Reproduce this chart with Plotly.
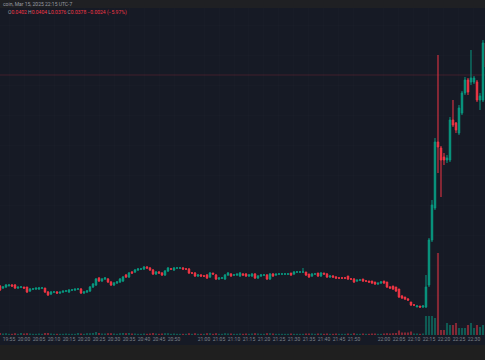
import pandas as pd
import plotly.graph_objects as go

# One-minute candles starting 19:52; prices in units of 0.0001
start_time = "2025-03-15 19:52"
TICK = 0.0001
open_u = [
    159,157,158,159,160,160,157,158,158,158,  # 19:52
    154,156,156,156,157,157,153,151,153,153,  # 20:02
    152,153,154,153,155,155,156,156,152,153,  # 20:12
    154,158,160,167,164,166,166,163,160,162,  # 20:22
    163,164,170,168,173,173,175,176,176,178,  # 20:32
    177,175,171,173,172,170,174,176,175,177,  # 20:42
    177,177,176,176,172,172,169,170,169,170,  # 20:52
    168,172,170,166,167,166,170,171,170,170,  # 21:02
    169,171,171,169,169,171,167,169,170,170,  # 21:12
    166,171,170,171,171,171,171,172,171,173,  # 21:22
    173,173,173,171,169,171,172,169,172,171,  # 21:32
    168,169,168,167,167,167,169,166,166,164,  # 21:42
    165,166,164,164,164,163,161,162,164,163,  # 21:52
    158,159,158,156,149,148,146,143,140,138,  # 22:02
    139,138,138,160,205,237,303,297,288,285,  # 22:12
    285,325,322,312,332,352,365,363,363,363,  # 22:22
    345,345,402]                              # 22:32
high_u = [
    160,159,161,161,161,161,158,159,158,158,
    157,157,157,158,158,157,154,154,154,154,
    153,154,155,156,156,156,157,157,154,155,
    159,162,167,168,167,168,167,164,163,164,
    167,169,171,173,174,176,177,177,179,179,
    178,176,174,174,173,175,178,177,178,178,
    178,178,177,177,173,173,171,171,170,171,
    173,172,171,168,168,171,173,172,171,171,
    173,172,172,171,172,172,170,171,171,171,
    172,172,171,172,172,172,172,172,174,174,
    174,177,173,171,172,172,172,173,172,172,
    170,170,169,168,168,168,169,167,167,165,
    166,166,165,164,164,163,162,164,164,163,
    159,159,158,156,150,148,147,143,141,140,
    139,140,170,207,245,307,390,299,292,290,
    328,345,323,340,354,368,367,395,369,365,
    352,405,404]
low_u = [
    154,156,157,159,158,156,156,157,156,152,
    153,155,155,155,156,152,149,150,152,151,
    151,152,153,152,154,154,155,151,151,152,
    153,157,159,163,163,165,162,159,159,161,
    162,163,167,167,171,172,174,175,175,176,
    174,170,170,171,169,169,173,175,174,176,
    176,175,175,171,171,168,168,168,168,166,
    167,170,165,165,166,165,169,168,169,169,
    168,169,168,168,168,166,166,168,169,165,
    165,168,169,170,170,170,170,169,170,172,
    172,172,169,167,168,170,168,168,170,167,
    167,167,166,166,166,166,165,165,162,163,
    164,163,163,162,161,160,160,161,161,157,
    156,155,153,147,146,145,144,139,139,138,
    137,137,137,158,203,235,272,248,280,282,
    283,318,312,310,330,350,350,360,361,343,
    335,343,376]
close_u = [
    155,158,160,160,159,157,158,158,157,153,
    156,156,157,157,157,153,150,153,153,152,
    153,154,154,155,155,156,156,152,153,154,
    158,161,166,164,166,167,163,160,162,163,
    166,168,168,172,172,175,176,176,178,177,
    175,171,173,172,170,174,177,176,177,177,
    177,176,176,172,172,169,170,169,169,167,
    172,171,166,167,167,170,172,169,170,171,
    172,170,169,170,171,167,169,170,170,166,
    171,169,171,171,171,171,171,170,173,173,
    173,173,170,168,171,171,169,172,171,168,
    169,168,167,167,167,167,166,166,163,165,
    165,164,164,163,162,161,162,163,162,158,
    157,156,154,148,147,146,145,140,140,139,
    138,139,158,205,240,303,298,285,285,287,
    325,320,315,337,352,365,353,367,367,345,
    349,402,378]
# Volume in thousands
volume_k = [
    20,15,18,12,12,18,12,20,15,18,
    15,12,12,15,12,20,20,15,12,12,
    12,12,15,12,12,12,20,15,12,18,
    18,20,30,20,15,15,18,18,15,12,
    18,20,18,20,15,15,12,12,15,12,
    15,20,15,12,15,18,18,12,15,12,
    12,12,12,18,12,18,12,12,12,18,
    18,12,18,12,12,18,15,15,12,12,
    15,12,15,12,15,18,15,12,12,18,
    18,15,12,12,12,12,12,15,12,12,
    12,12,15,15,15,12,15,15,12,15,
    12,12,15,12,12,12,15,12,18,12,
    12,15,12,12,15,15,12,12,15,18,
    15,18,20,45,25,25,25,35,15,15,
    12,15,190,190,190,170,820,50,50,120,
    100,100,120,70,70,70,100,120,70,100,
    80,100,110]

tick_labels = ["19:55","20:00","20:05","20:10","20:15","20:20","20:25","20:30","20:35","20:40","20:45","20:50",
               "21:00","21:05","21:10","21:15","21:20","21:25","21:30","21:35","21:40","21:45","21:50",
               "22:00","22:05","22:10","22:15","22:20","22:25","22:30"]
header_text = "coin, Mar 15, 2025 22:15 UTC-7"
last_change = "−0.0024 (−5.97%)"

n = len(open_u)
assert n == len(high_u) == len(low_u) == len(close_u) == len(volume_k), (n, len(high_u), len(low_u), len(close_u), len(volume_k))

times = pd.date_range(start_time, periods=n, freq="min")
o = [v * TICK for v in open_u]
h = [v * TICK for v in high_u]
l = [v * TICK for v in low_u]
c = [v * TICK for v in close_u]

UP = "#089981"
DOWN = "#f23645"
vol_colors = ["rgba(8,153,129,0.5)" if cc >= oo else "rgba(242,54,69,0.5)" for oo, cc in zip(open_u, close_u)]

fig = go.Figure()
fig.add_trace(go.Bar(x=times, y=volume_k, marker=dict(color=vol_colors, line=dict(width=0)),
                     yaxis="y2", showlegend=False, hoverinfo="skip"))
fig.add_trace(go.Candlestick(x=times, open=o, high=h, low=l, close=c,
                             increasing=dict(line=dict(color=UP, width=1), fillcolor=UP),
                             decreasing=dict(line=dict(color=DOWN, width=1), fillcolor=DOWN),
                             whiskerwidth=0, showlegend=False))

tick_vals = [pd.Timestamp("2025-03-15 " + t) for t in tick_labels]
x0 = pd.Timestamp(start_time)
x1 = pd.Timestamp("2025-03-15 19:55") + pd.Timedelta(minutes=158.67)

H_PLOT = 327
fig.update_layout(
    width=485, height=360,
    margin=dict(l=0, r=0, t=8, b=25),
    paper_bgcolor="#161a25", plot_bgcolor="#161a25",
    bargap=0.3,
    xaxis=dict(range=[x0, x1], tickvals=tick_vals, ticktext=tick_labels, tickangle=0,
               tickfont=dict(size=5, color="#7d818c", family="Roboto"),
               showgrid=True, gridcolor="rgba(255,255,255,0.012)", ticks="", ticklen=0, zeroline=False,
               rangeslider=dict(visible=False), fixedrange=True, showline=False),
    yaxis=dict(range=[110 * TICK, 437 * TICK], showticklabels=False, showgrid=True,
               gridcolor="rgba(255,255,255,0.012)", zeroline=False, dtick=30 * TICK),
    yaxis2=dict(range=[0, 3270], overlaying="y", visible=False),
    shapes=[
        dict(type="rect", xref="paper", yref="paper", x0=0, x1=1, y0=1, y1=1 + 8 / H_PLOT,
             fillcolor="#1f2023", line=dict(width=0), layer="above"),
        dict(type="rect", xref="paper", yref="paper", x0=0, x1=1, y0=-25 / H_PLOT, y1=-10 / H_PLOT,
             fillcolor="#1f1f1f", line=dict(width=0), layer="above"),
        dict(type="line", xref="paper", yref="y", x0=0, x1=1, y0=370 * TICK, y1=370 * TICK,
             line=dict(color="rgba(242,54,69,0.2)", width=1), layer="below"),
    ],
    annotations=[
        dict(text=header_text, xref="paper", yref="paper", x=0.002, y=1 + 4 / H_PLOT,
             xanchor="left", yanchor="middle", showarrow=False,
             font=dict(size=5, color="#9a9ca3", family="Roboto")),
        dict(text=("<span style='color:#9a9ca3'>O</span>0.0402 <span style='color:#9a9ca3'>H</span>0.0404 "
                   "<span style='color:#9a9ca3'>L</span>0.0376 <span style='color:#9a9ca3'>C</span>0.0378 " + last_change),
             xref="paper", yref="paper", x=0.012, y=1 - 5 / H_PLOT,
             xanchor="left", yanchor="middle", showarrow=False,
             font=dict(size=5, color=DOWN, family="Roboto")),
    ],
)

fig.write_html("out.html")
